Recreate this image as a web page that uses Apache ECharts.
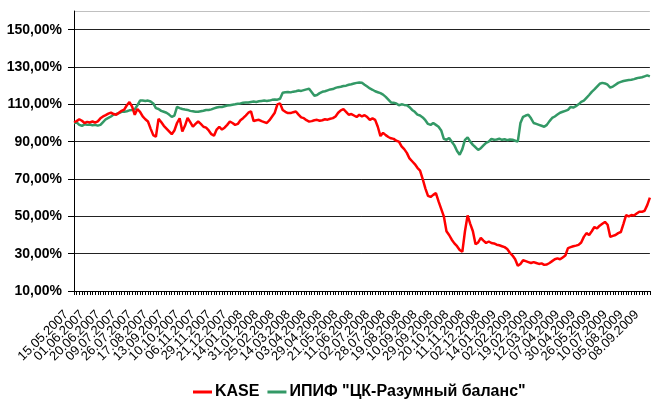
<!DOCTYPE html>
<html>
<head>
<meta charset="utf-8">
<script src="https://cdn.jsdelivr.net/npm/echarts@6/dist/echarts.min.js"></script>
<style>
html,body{margin:0;padding:0;background:#fff;}
#chart{width:652px;height:401px;}
</style>
</head>
<body>
<div id="chart"></div>
<script>
const tickLabels = [
  '15.05.2007','01.06.2007','20.06.2007','09.07.2007','26.07.2007','17.08.2007','13.09.2007','10.10.2007',
  '06.11.2007','29.11.2007','21.12.2007','14.01.2008','31.01.2008','25.02.2008','14.03.2008','03.04.2008',
  '29.04.2008','21.05.2008','11.06.2008','02.07.2008','28.07.2008','19.08.2008','10.09.2008','29.09.2008',
  '20.10.2008','11.11.2008','02.12.2008','14.01.2009','02.02.2009','19.02.2009','12.03.2009','07.04.2009',
  '30.04.2009','26.05.2009','10.07.2009','05.08.2009','08.09.2009'
];
const pointsPerLabel = 6;

const kase = [
  100.5, 101, 102, 101.2, 100, 100.6, 100.3, 100.8, 100.2, 100.9,
  102.5, 103.5, 104.2, 105, 105.6, 104.8, 104.4, 105.5, 106.5, 107.2,
  109.5, 111.2, 108.8, 104.4, 107.5, 106, 103.5, 102, 100.8, 97,
  93.5, 92.6, 102.2, 100.5, 98.5, 97, 95.5, 94, 96, 100,
  102.5, 95.5, 98.5, 102.7, 100.5, 98, 99.5, 100.8, 99.5, 98,
  97.5, 96, 94, 93.2, 96.5, 98, 96.5, 97.5, 99, 100.8,
  100, 99, 99.5, 101.5, 102.6, 104, 105.5, 106.2, 101, 101.5,
  101.7, 101, 100.5, 100, 101.5, 103.5, 105.5, 110, 110.5, 107,
  106, 105.3, 105.3, 105.8, 106.2, 104.5, 103, 102.6, 101.5, 100.8,
  101, 101.5, 101.7, 101.2, 101.5, 102, 101.8, 102.3, 102.6, 103.5,
  105.5, 106.8, 107.4, 106, 104.4, 104.8, 104, 103.2, 104.4, 103.5,
  104.2, 103.2, 101.7, 102.5, 101.7, 98, 93, 94.7, 93.5, 92.5,
  91.8, 91.5, 90.5, 90, 87.5, 86, 84, 81, 79.5, 78,
  76, 74.5, 70, 65, 61, 60.4, 61.5, 62.5, 58, 54,
  50, 42, 40, 37.5, 35.5, 34, 32, 31, 42, 50.5,
  46, 42, 35, 36, 38.4, 37, 35.7, 36.5, 35.7, 35.5,
  34.8, 34.5, 34, 33.5, 32.5, 30.5, 29, 27, 23.5, 24.5,
  26.5, 26, 25.5, 25, 25.5, 25, 24.5, 24.8, 24, 24.2,
  25, 26, 27, 27.5, 27, 28, 29, 33, 33.5, 34,
  34.3, 34.7, 36, 39, 41, 40, 42, 44.3, 43.5, 45,
  46, 47, 45.5, 39, 39.5, 40, 41, 41.6, 46, 50.7,
  50, 50.7, 50.5, 51.5, 52.5, 52.4, 53, 56, 60
];

const ipif = [
  100, 100.3, 99, 98.5, 99.3, 99, 99.2, 98.8, 99, 98.6,
  99, 100.5, 102, 102.7, 103.5, 104.5, 104.8, 105.3, 106, 106,
  106.3, 106.8, 107, 107.3, 109.5, 112, 112, 111.8, 112, 111.5,
  110.5, 108, 107.5, 106.5, 106, 105.5, 104.5, 103.3, 104, 108.6,
  108, 107.5, 107.2, 107, 106.5, 106.3, 106, 106, 106.3, 106.6,
  107, 107, 107.3, 107.8, 108.3, 108.6, 108.6, 109, 109.4, 109.5,
  109.8, 110, 110.3, 110.5, 110.8, 111, 111, 111.3, 111.5, 111.3,
  111.6, 111.8, 112, 111.8, 112, 112.4, 112.6, 112.5, 113, 116.2,
  116.5, 116.6, 116.4, 116.8, 117, 117.4, 117.2, 117.6, 118, 118.3,
  116.5, 114.6, 115, 116, 116.7, 117, 117.5, 118, 118.2, 118.8,
  119.2, 119.4, 119.8, 120, 120.5, 120.8, 121.2, 121.5, 121.7, 121.6,
  120.5, 119.5, 118.5, 117.8, 117, 116.5, 116, 115.2, 114, 112.5,
  111, 110.8, 110.5, 109.5, 110, 109.7, 109.5, 108.5, 107, 106,
  104.5, 104, 103, 101.5, 99.5, 99, 100, 99, 98, 96,
  91.5, 91, 92, 90, 88, 85, 83, 86, 91, 92.3,
  90, 88.3, 87, 85.6, 86.5, 88, 89.4, 90, 91.5, 91,
  91.2, 91.6, 91, 91.3, 90.8, 91.2, 91, 90.5, 90, 100,
  103.3, 104, 104.4, 102.5, 100, 99.5, 99, 98.5, 98, 99,
  101, 102.7, 103.5, 104.5, 105.5, 106, 106.5, 107, 108.6, 108.3,
  109, 110, 111.3, 112, 113.5, 115, 116.7, 118, 119.5, 121,
  121.5, 121.2, 120.5, 119, 119.5, 120.5, 121.5, 122, 122.5, 122.8,
  123, 123.2, 123.5, 124, 124.3, 124.5, 125, 125.5, 125
];

const seriesNames = ['KASE', 'ИПИФ "ЦК-Разумный баланс"'];

// one category per data point; every pointsPerLabel-th point carries a date label
const categories = kase.map((_, i) => 'p' + i);
const labelFor = idx => (idx % pointsPerLabel === 0 && tickLabels[idx / pointsPerLabel])
  ? tickLabels[idx / pointsPerLabel] + '\u00a0\u00a0\u00a0' : '';

const font = 'Liberation Sans, Arial, sans-serif';
const chart = echarts.init(document.getElementById('chart'), null, {renderer: 'canvas'});
chart.setOption({
  animation: false,
  backgroundColor: '#fff',
  grid: {left: 74, right: 1, top: 11, bottom: 110, show: false},
  legend: {
    top: 384,
    left: 193,
    padding: 0,
    itemWidth: 19,
    itemHeight: 3,
    itemGap: 8,
    icon: 'rect',
    textStyle: {fontFamily: font, fontWeight: 'bold', fontSize: 16, color: '#000', padding: [0, 0, 0, -2]},
    data: seriesNames
  },
  xAxis: {
    type: 'category',
    data: categories,
    boundaryGap: false,
    axisLine: {lineStyle: {color: '#000', width: 1}},
    axisTick: {show: true, interval: 0, length: 4, lineStyle: {color: '#000'}},
    axisLabel: {
      interval: 0,
      rotate: 45,
      margin: 14,
      hideOverlap: false,
      fontFamily: font,
      fontSize: 13,
      color: '#000',
      formatter: (value, idx) => labelFor(idx)
    },
    splitLine: {show: false}
  },
  yAxis: {
    type: 'value',
    min: 10,
    max: 160,
    interval: 20,
    axisLine: {show: true, lineStyle: {color: '#000', width: 1}},
    axisTick: {show: true, length: 6, lineStyle: {color: '#000'}},
    axisLabel: {
      showMaxLabel: false,
      margin: 12,
      fontFamily: font,
      fontSize: 14,
      fontWeight: 'bold',
      color: '#000',
      formatter: v => v.toFixed(2).replace('.', ',') + '%'
    },
    splitLine: {show: true, lineStyle: {color: ['#000','#222','#222','#222','#222','#222','#222','#222','#c0c0c0'], width: 1}}
  },
  series: [
    {
      name: seriesNames[0], type: 'line', data: kase, showSymbol: false, symbol: 'none',
      lineStyle: {color: '#ff0000', width: 2.5}, itemStyle: {color: '#ff0000'}, z: 3
    },
    {
      name: seriesNames[1], type: 'line', data: ipif, showSymbol: false, symbol: 'none',
      lineStyle: {color: '#339966', width: 2.5}, itemStyle: {color: '#339966'}, z: 2
    }
  ]
});
</script>
</body>
</html>
